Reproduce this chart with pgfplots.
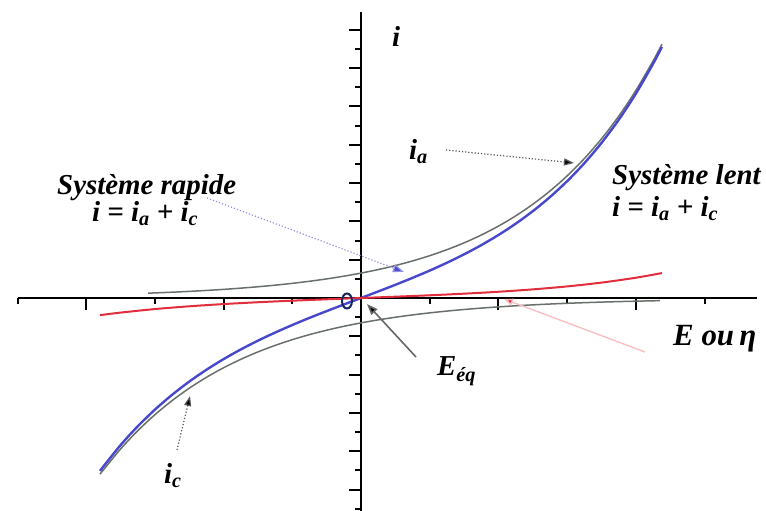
\documentclass[border=0pt]{standalone}
\usepackage{pgfplots}
\pgfplotsset{compat=1.18}
\usepackage{fontspec}
\setmainfont{Liberation Serif}
\usetikzlibrary{arrows.meta}

\definecolor{rapide}{RGB}{72,72,205}
\definecolor{partiel}{RGB}{105,112,105}
\definecolor{lent}{RGB}{225,45,60}
\definecolor{navy}{RGB}{25,40,95}

% partial anodic current i_a
\pgfplotstableread{
x y
-3.1 0.251
-2.75 0.303
-2.5 0.346
-2.25 0.395
-2 0.450
-1.75 0.514
-1.5 0.587
-1.25 0.670
-1 0.765
-0.75 0.874
-0.5 0.997
-0.25 1.139
0 1.300
0.25 1.484
0.5 1.694
0.75 1.935
1 2.209
1.25 2.522
1.5 2.879
1.75 3.287
2 3.752
2.25 4.284
2.5 4.891
2.75 5.584
3 6.375
3.25 7.278
3.5 8.309
3.75 9.486
4 10.830
4.25 12.365
4.38 13.247
}\ianodique

% partial cathodic current i_c
\pgfplotstableread{
x y
-3.8 -9.201
-3.5 -7.885
-3.25 -6.932
-3 -6.094
-2.75 -5.359
-2.5 -4.711
-2.25 -4.142
-2 -3.641
-1.75 -3.202
-1.5 -2.815
-1.25 -2.475
-1 -2.176
-0.75 -1.912
-0.5 -1.682
-0.25 -1.478
0 -1.300
0.25 -1.143
0.5 -1.005
0.75 -0.883
1 -0.777
1.25 -0.683
1.5 -0.600
1.75 -0.528
2 -0.464
2.25 -0.408
2.5 -0.359
2.75 -0.315
3 -0.277
3.25 -0.244
3.5 -0.214
3.75 -0.189
4 -0.166
4.25 -0.146
4.35 -0.138
}\icathodique

% fast system: i = i_a + i_c
\pgfplotstableread{
x y
-3.8 -9.027
-3.5 -7.682
-3.25 -6.700
-3 -5.829
-2.75 -5.056
-2.5 -4.365
-2.25 -3.747
-2 -3.191
-1.75 -2.688
-1.5 -2.228
-1.25 -1.805
-1 -1.411
-0.75 -1.038
-0.5 -0.685
-0.25 -0.339
0 0
0.25 0.341
0.5 0.689
0.75 1.052
1 1.432
1.25 1.839
1.5 2.279
1.75 2.759
2 3.288
2.25 3.876
2.5 4.532
2.75 5.269
3 6.098
3.25 7.034
3.5 8.095
3.75 9.297
4 10.664
4.25 12.219
4.38 13.111
}\rapide

% slow system: i = i_a + i_c
\pgfplotstableread{
x y
-3.8 -0.896
-3.5 -0.762
-3 -0.578
-2.5 -0.433
-2 -0.317
-1.5 -0.221
-1 -0.140
-0.5 -0.068
0 0
0.5 0.068
1 0.142
1.5 0.226
2 0.326
2.5 0.450
3 0.605
3.5 0.803
4 1.058
4.38 1.301
}\lent

\begin{document}
\begin{tikzpicture}
\useasboundingbox (0bp,0bp) rectangle (766bp,511bp);
\begin{axis}[
  at={(361bp,213bp)}, anchor=origin,
  scale only axis,
  width=739.2bp, height=498.5bp,
  xmin=-5, xmax=5.76, ymin=-11.1, ymax=14.93,
  axis lines=middle,
  axis line style={-, line width=2.4bp, black},
  xtick={-4,-2,2,4}, minor xtick={-5,-3,-1,1,3,5},
  ytick={-10,-8,-6,-4,-2,2,4,6,8,10,12,14},
  minor ytick={-11,-9,-7,-5,-3,-1,1,3,5,7,9,11,13,15},
  xticklabels={}, yticklabels={},
  tick align=outside,
  major tick length=12bp, minor tick length=6bp,
  every tick/.style={line width=2bp, black},
  clip=false,
]
\addplot[partiel, line width=1.5bp, smooth] table {\ianodique};
\addplot[partiel, line width=1.5bp, smooth] table {\icathodique};
\addplot[rapide, line width=2.4bp, smooth] table {\rapide};
\addplot[lent, line width=2bp, smooth] table {\lent};
\end{axis}

\begin{scope}[x=1bp, y=-1bp, shift={(0bp,511bp)},
  lab/.style={font=\fontsize{29}{34}\selectfont\bfseries\itshape, inner sep=0pt}]
  % annotation arrows
  \draw[rapide!60, line width=1.2bp, dotted, -{Triangle[length=11bp,width=8bp,fill=rapide]}]
    (207,198) -- (404,272);
  \draw[black!65, line width=1.2bp, dotted, -{Triangle[length=10bp,width=7bp,fill=black]}]
    (446,150) -- (574,163);
  \draw[black!65, line width=1.2bp, dotted, -{Triangle[length=10bp,width=7bp,fill=black]}]
    (177,450) -- (190,396);
  \draw[black!60, line width=1.6bp, -{Triangle[length=11bp,width=8bp,fill=black]}]
    (416,357) -- (367,304);
  \draw[lent!30, line width=1.4bp, -{Triangle[length=9bp,width=7bp,fill=lent]}]
    (645,352) -- (504,299);
  \draw[navy, line width=2bp] (347,301) ellipse [x radius=5, y radius=7.5];
  % labels
  \node[lab, anchor=base west] at (392,47) {i};
  \node[lab, anchor=base west] at (409,160) {i\textsubscript{a}};
  \node[lab, anchor=base west] at (57,195) {Système rapide};
  \node[lab, anchor=base west] at (92,222) {i = i\textsubscript{a} + i\textsubscript{c}};
  \node[lab, anchor=base west] at (612,185) {Système lent};
  \node[lab, anchor=base west] at (612,217) {i = i\textsubscript{a} + i\textsubscript{c}};
  \node[lab, anchor=base west, font=\fontsize{31}{36}\selectfont\bfseries\itshape] at (673,346) {E ou\,η};
  \node[lab, anchor=base west] at (437,376) {E\textsubscript{éq}};
  \node[lab, anchor=base west] at (164,484) {i\textsubscript{c}};
\end{scope}
\end{tikzpicture}
\end{document}
